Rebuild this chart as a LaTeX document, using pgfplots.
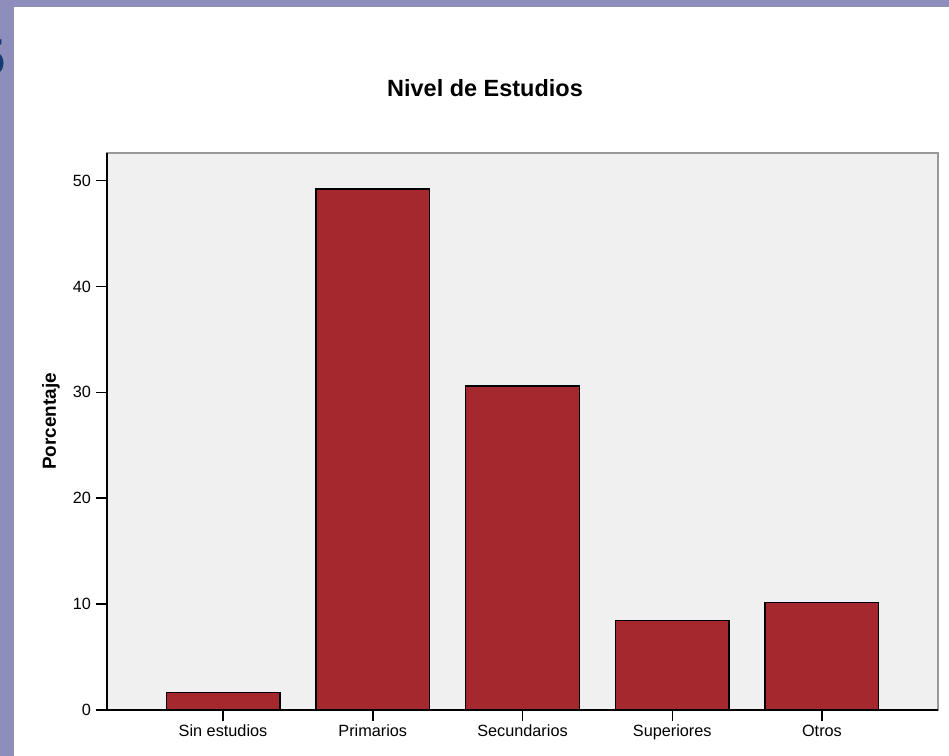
\documentclass[border=0pt]{standalone}
\usepackage{pgfplots}
\pgfplotsset{compat=1.18}
\usepackage{pgfplotstable}
\usepackage{fontspec}
\setmainfont{Liberation Sans}

\definecolor{slidebg}{RGB}{142,142,188}
\definecolor{plotbg}{RGB}{240,240,240}
\definecolor{barred}{RGB}{165,40,46}
\definecolor{slideblue}{RGB}{20,60,112}

\pgfplotstableread{
idx val
0 1.64
1 49.2
2 30.6
3 8.44
4 10.14
}\estudios

\begin{document}
\begin{tikzpicture}
% slide background, 1px = 0.75pt
\begin{scope}[x=0.75pt,y=-0.75pt]
\useasboundingbox (0,0) rectangle (949,756);
\fill[slidebg] (0,0) rectangle (949,756);
\node[anchor=east, inner sep=0pt, text=slideblue,
  font=\bfseries\fontsize{39}{39}\selectfont] at (6,58) {5};
\fill[white] (14,7) rectangle (949,756);
\node[anchor=base, font=\bfseries\fontsize{17.6}{20}\selectfont] at (485,96.7) {Nivel de Estudios};
\end{scope}

\begin{axis}[
at={(80.25pt,-532.5pt)}, anchor=south west,
scale only axis,
width=623.25pt, height=417.75pt,
xmin=-0.775, xmax=4.775,
ymin=0, ymax=52.6,
axis background/.style={fill=plotbg},
axis line style={draw=gray!80, line width=1.1pt},
xtick={0,...,4},
xticklabels={Sin estudios,Primarios,Secundarios,Superiores,Otros},
ytick={0,10,...,50},
xtick pos=bottom, ytick pos=left,
tick align=outside,
tick style={black, line width=1.1pt},
major tick length=8.5pt,
x tick label style={font=\fontsize{12.2}{14}\selectfont, text height=9pt, text depth=2.5pt, yshift=1pt},
y tick label style={font=\fontsize{12.2}{14}\selectfont},
/pgf/number format/assume math mode=true,
ylabel={\textbf{Porcentaje}},
ylabel style={at={(axis description cs:-0.0674,0.518)}, anchor=center, rotate=0,
  font=\fontsize{14.2}{16}\selectfont},
clip=false,
]
\addplot[ybar, bar width=0.758, fill=barred, draw=black, line width=1.1pt]
  table[x=idx, y=val] {\estudios};
\draw[black, line width=1.1pt] (rel axis cs:0,1) -- (rel axis cs:0,0) -- (rel axis cs:1,0);
\end{axis}
\end{tikzpicture}
\end{document}
